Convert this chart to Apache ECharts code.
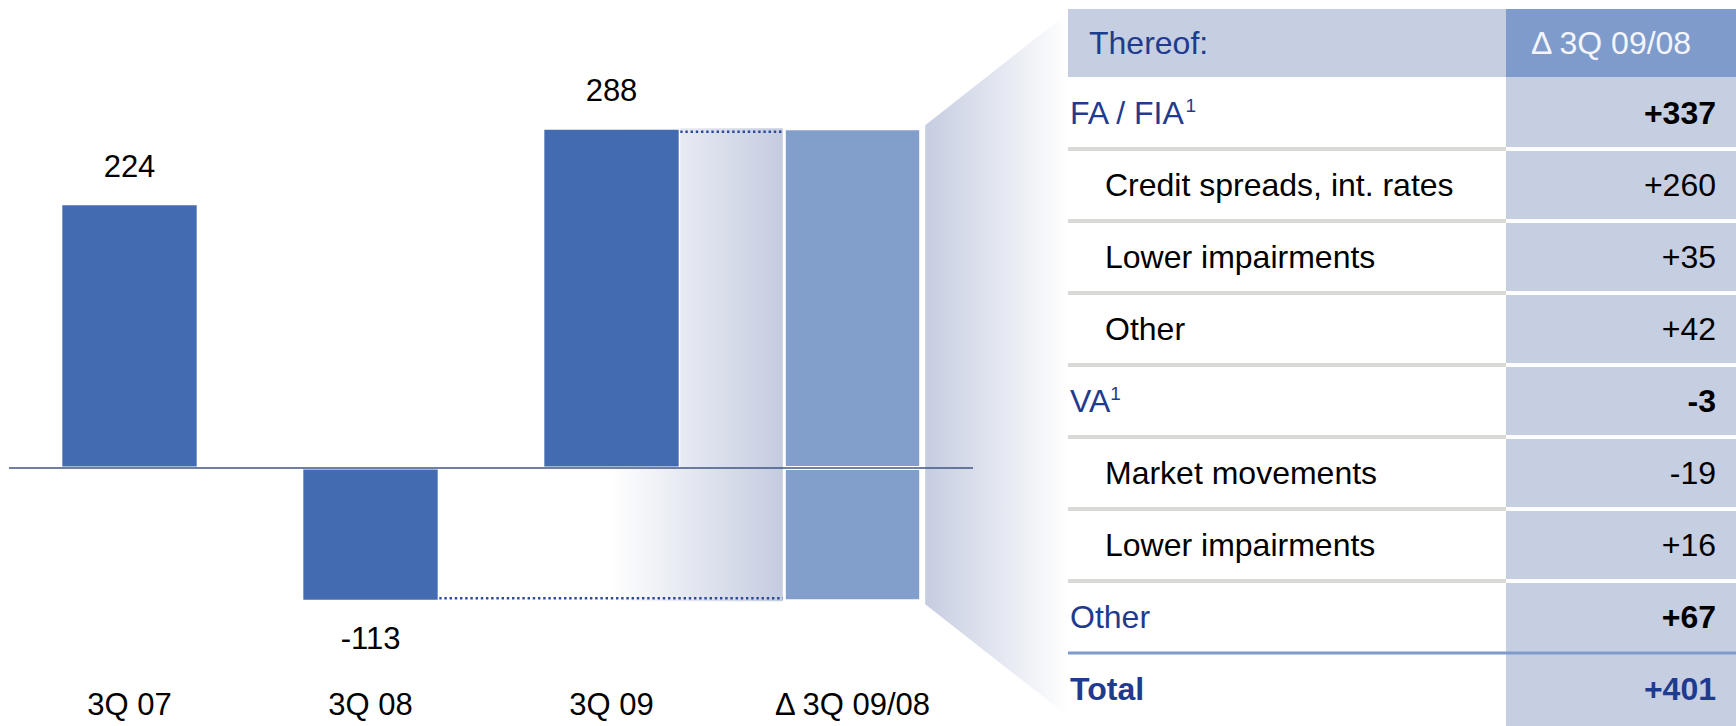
<!DOCTYPE html>
<html>
<head>
<meta charset="utf-8">
<script src="https://cdn.jsdelivr.net/npm/echarts@6/dist/echarts.min.js"></script>
<style>
  html, body { margin: 0; padding: 0; background: #fff; }
  #chart { width: 1736px; height: 726px; }
</style>
</head>
<body>
<div id="chart"></div>
<script>
// chart data
const categories = ['3Q 07', '3Q 08', '3Q 09', 'Δ 3Q 09/08']
const periodValues = [224, -113, 288]

// breakdown table
const tableHeader = ['Thereof:', 'Δ 3Q 09/08']
const tableLabels = ['FA / FIA', 'Credit spreads, int. rates', 'Lower impairments', 'Other',
  'VA', 'Market movements', 'Lower impairments', 'Other', 'Total']
const tableValues = [337, 260, 35, 42, -3, -19, 16, 67, 401]
const tableLevels = ['main', 'sub', 'sub', 'sub', 'main', 'sub', 'sub', 'main', 'total']
const tableFootnote = [true, false, false, false, true, false, false, false, false]

const FONT = '"Liberation Sans", Arial, Helvetica, sans-serif'
const BAR = '#436bb2'
const DELTA = '#829ecb'
const CELL = '#c6cee2'
const HEAD = '#7f9bcb'
const NAVY = '#1f3b8f'

// table layout
const tX = 1068, tSplit = 1506, tR = 1736, headTop = 9, headBot = 77, rowH = 72

const last = periodValues.length - 1
const fromVal = periodValues[last - 1]
const toVal = periodValues[last]

const fmt = (v) => (v > 0 ? '+' : '') + v

function buildTable() {
  const els = []
  els.push({ type: 'rect', z: 100, shape: { x: tX, y: headTop, width: tSplit - tX, height: headBot - headTop }, style: { fill: CELL } })
  els.push({ type: 'rect', z: 100, shape: { x: tSplit, y: headTop, width: tR - tSplit, height: headBot - headTop }, style: { fill: HEAD } })
  els.push({ type: 'rect', z: 100, shape: { x: tSplit, y: headBot, width: tR - tSplit, height: 726 - headBot }, style: { fill: CELL } })
  els.push({ type: 'text', z: 101, style: { x: 1089, y: (headTop + headBot) / 2, text: tableHeader[0], fill: NAVY, font: '32px ' + FONT, textVerticalAlign: 'middle' } })
  els.push({ type: 'text', z: 101, style: { x: 1531, y: (headTop + headBot) / 2, text: tableHeader[1], fill: '#f3f5fa', font: '32px ' + FONT, textVerticalAlign: 'middle' } })

  tableLabels.forEach((lab, i) => {
    const top = headBot + i * rowH
    const cy = top + rowH / 2
    const lvl = tableLevels[i]
    if (i > 0) {
      if (lvl === 'total') {
        els.push({ type: 'rect', z: 102, shape: { x: tX, y: top - 1.5, width: tR - tX, height: 3 }, style: { fill: HEAD } })
      } else {
        els.push({ type: 'rect', z: 102, shape: { x: tX, y: top - 2, width: tSplit - tX, height: 4 }, style: { fill: '#d9d9d6' } })
        els.push({ type: 'rect', z: 102, shape: { x: tSplit, y: top - 2, width: tR - tSplit, height: 4 }, style: { fill: '#ffffff' } })
      }
    }
    const isSub = lvl === 'sub'
    const bold = lvl === 'total'
    const color = isSub ? '#000' : NAVY
    const text = tableFootnote[i] ? '{a|' + lab + '}{s|1}' : '{a|' + lab + '}'
    els.push({
      type: 'text', z: 103,
      style: {
        x: isSub ? 1105 : 1070, y: cy, text, textVerticalAlign: 'middle',
        rich: {
          a: { fontSize: 32, fontFamily: FONT, fontWeight: bold ? 'bold' : 'normal', fill: color, color },
          s: { fontSize: 19, fontFamily: FONT, fill: color, color, padding: [0, 0, 15, 0] }
        }
      }
    })
    els.push({
      type: 'text', z: 103,
      style: {
        x: 1716, y: cy, text: fmt(tableValues[i]), textAlign: 'right', textVerticalAlign: 'middle',
        fill: lvl === 'total' ? NAVY : '#000',
        font: (isSub ? '' : 'bold ') + '32px ' + FONT
      }
    })
  })
  return els
}

// gradient band, dotted connectors and the fan into the table
function renderBackdrop(params, api) {
  const cFrom = api.value(0), cTo = api.value(1)
  const half = api.size([1, 0])[0] * 0.57 / 2
  const pTopFrom = api.coord([cFrom, api.value(2)])
  const pTopTo = api.coord([cTo, api.value(2)])
  const pBotFrom = api.coord([cFrom - 1, api.value(3)])
  const pBotTo = api.coord([cTo, api.value(3)])
  const bandL = pTopFrom[0]
  const bandR = pTopTo[0] - half - 1
  const dotted = { stroke: '#2a4a9a', lineWidth: 2.5, lineDash: [2.4, 2.8] }
  const fanL = pTopTo[0] + half + 4
  return {
    type: 'group',
    children: [
      {
        type: 'rect',
        shape: { x: bandL, y: pTopFrom[1], width: bandR - bandL, height: pBotTo[1] - pTopFrom[1] },
        style: { fill: new echarts.graphic.LinearGradient(0, 0, 1, 0, [
          { offset: 0, color: '#ffffff' }, { offset: 1, color: '#c5cce0' }]) }
      },
      {
        type: 'polygon',
        shape: { points: [[fanL, pTopTo[1] - 3], [tX, 13], [tX, 716], [fanL, pBotTo[1] + 3]] },
        style: { fill: new echarts.graphic.LinearGradient(0, 0, 1, 0, [
          { offset: 0, color: '#c6cde1' }, { offset: 1, color: '#ffffff' }]) }
      },
      { type: 'line', shape: { x1: pTopFrom[0] + half, y1: pTopFrom[1] + 3.5, x2: bandR, y2: pTopFrom[1] + 3.5 }, style: dotted },
      { type: 'line', shape: { x1: pBotFrom[0] + half, y1: pBotTo[1] - 3, x2: bandR, y2: pBotTo[1] - 3 }, style: dotted }
    ]
  }
}

function renderBaseline(params, api) {
  const w = api.size([1, 0])[0]
  const a = api.coord([0, 0]), b = api.coord([categories.length - 1, 0])
  return {
    type: 'line',
    shape: { x1: a[0] - w / 2, y1: a[1], x2: b[0] + w / 2, y2: a[1] },
    style: { stroke: '#3f5683', lineWidth: 1.6 }
  }
}

const chart = echarts.init(document.getElementById('chart'), null, { renderer: 'svg' })

chart.setOption({
  animation: false,
  textStyle: { fontFamily: FONT },
  grid: { left: 9, right: 763, top: 114, bottom: 81 },
  xAxis: {
    type: 'category',
    data: categories,
    axisLine: { show: false },
    axisTick: { show: false },
    axisLabel: { margin: 44, fontSize: 31, color: '#000', fontFamily: FONT }
  },
  yAxis: { type: 'value', min: -150, max: 300, show: false, splitLine: { show: false } },
  series: [
    {
      type: 'custom',
      z: 1,
      renderItem: renderBackdrop,
      data: [[last, categories.length - 1, toVal, fromVal]],
      silent: true
    },
    {
      type: 'bar',
      stack: 'w',
      z: 2,
      barWidth: '57%',
      data: periodValues.map((v) => ({
        value: v,
        label: { position: v < 0 ? 'bottom' : 'top' }
      })).concat(['-']),
      itemStyle: { color: BAR, borderColor: '#fff', borderWidth: 1.5 },
      label: { show: true, distance: 22, fontSize: 31, color: '#000', fontFamily: FONT }
    },
    {
      type: 'bar',
      stack: 'w',
      z: 2,
      barWidth: '57%',
      data: categories.map((c, i) => (i === categories.length - 1 ? toVal : '-')),
      itemStyle: { color: DELTA, borderColor: '#fff', borderWidth: 2 }
    },
    {
      type: 'bar',
      stack: 'w',
      z: 2,
      barWidth: '57%',
      data: categories.map((c, i) => (i === categories.length - 1 ? fromVal : '-')),
      itemStyle: { color: DELTA, borderColor: '#fff', borderWidth: 2 }
    },
    {
      type: 'custom',
      z: 3,
      renderItem: renderBaseline,
      data: [[0]],
      silent: true
    }
  ],
  graphic: buildTable()
})
</script>
</body>
</html>
